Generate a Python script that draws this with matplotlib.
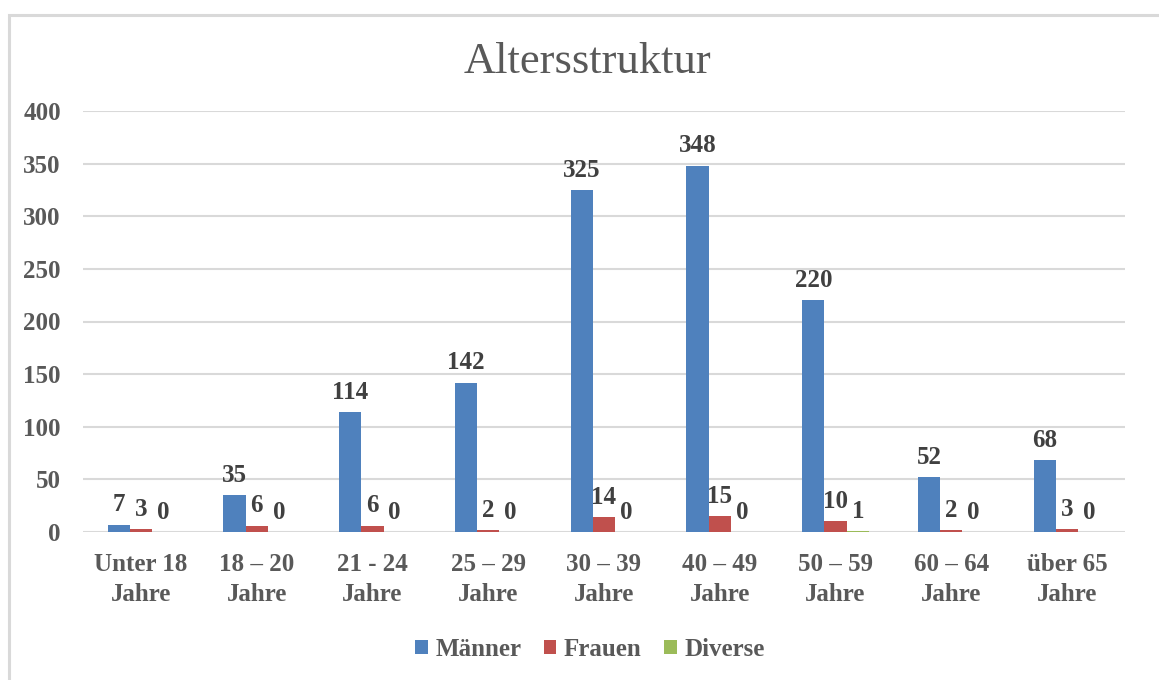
import matplotlib
matplotlib.use("Agg")
import matplotlib.pyplot as plt
import numpy as np
from matplotlib.patches import Rectangle

categories = ["Unter 18\nJahre", "18 – 20\nJahre", "21 - 24\nJahre", "25 – 29\nJahre",
              "30 – 39\nJahre", "40 – 49\nJahre", "50 – 59\nJahre", "60 – 64\nJahre",
              "über 65\nJahre"]
maenner = [7, 35, 114, 142, 325, 348, 220, 52, 68]
frauen = [3, 6, 6, 2, 14, 15, 10, 2, 3]
diverse = [0, 0, 0, 0, 0, 0, 1, 0, 0]
series_names = ["Männer", "Frauen", "Diverse"]
colors = ["#4F81BD", "#C0504D", "#9BBB59"]
yticks = [0, 50, 100, 150, 200, 250, 300, 350, 400]

FONT = "Liberation Serif"
TXT = "#595959"
LBL = "#404040"
FS = 18

fig = plt.figure(figsize=(11.59, 6.80), dpi=100)
fig.patches.append(Rectangle((9/1159, -0.1), 1.2, (680-15)/680 + 0.1, transform=fig.transFigure,
                             fill=False, edgecolor="#D9D9D9", linewidth=2.2))
ax = fig.add_axes([83/1159, 1-532/680, (1125-83)/1159, (532-111)/680])

x = np.arange(len(categories))
w = 0.192
for i, (vals, name, c) in enumerate(zip([maenner, frauen, diverse], series_names, colors)):
    pos = x + (i - 1) * w
    ax.bar(pos, vals, width=w, color=c, label=name, zorder=3)
    for p, v in zip(pos, vals):
        ax.annotate(str(v), (p, v), xytext=(0, 6), textcoords="offset points",
                    ha="center", va="bottom", fontsize=FS, fontweight="bold",
                    family=FONT, color=LBL)

ax.set_xlim(-0.5, len(categories) - 0.5)
ax.set_ylim(0, 400)
ax.set_yticks(yticks)
ax.set_xticks(x)
ax.set_xticklabels(categories)
ax.yaxis.grid(True, color="#D9D9D9", linewidth=1.5, zorder=0)
ax.set_axisbelow(True)
for s in ax.spines.values():
    s.set_visible(False)
ax.tick_params(axis="both", length=0, labelsize=FS, labelcolor=TXT)
ax.tick_params(axis="y", pad=16)
ax.tick_params(axis="x", pad=15)
for lab in ax.get_yticklabels():
    lab.set_fontfamily(FONT)
    lab.set_fontweight("bold")
for lab in ax.get_xticklabels():
    lab.set_fontfamily(FONT)
    lab.set_fontweight("bold")
    lab.set_linespacing(1.4)

fig.text(587/1159, 1-62/680, "Altersstruktur", ha="center", va="center",
         fontsize=32, family="Liberation Serif", color=TXT)

leg = fig.legend(loc="center", bbox_to_anchor=(590/1159, 1-649/680), ncol=3, frameon=False,
                 prop={"family": FONT, "weight": "bold", "size": FS},
                 handlelength=0.5, handleheight=0.5, handletextpad=0.3, columnspacing=0.9)
for t in leg.get_texts():
    t.set_color(TXT)

fig.savefig("out.png", dpi=100)
